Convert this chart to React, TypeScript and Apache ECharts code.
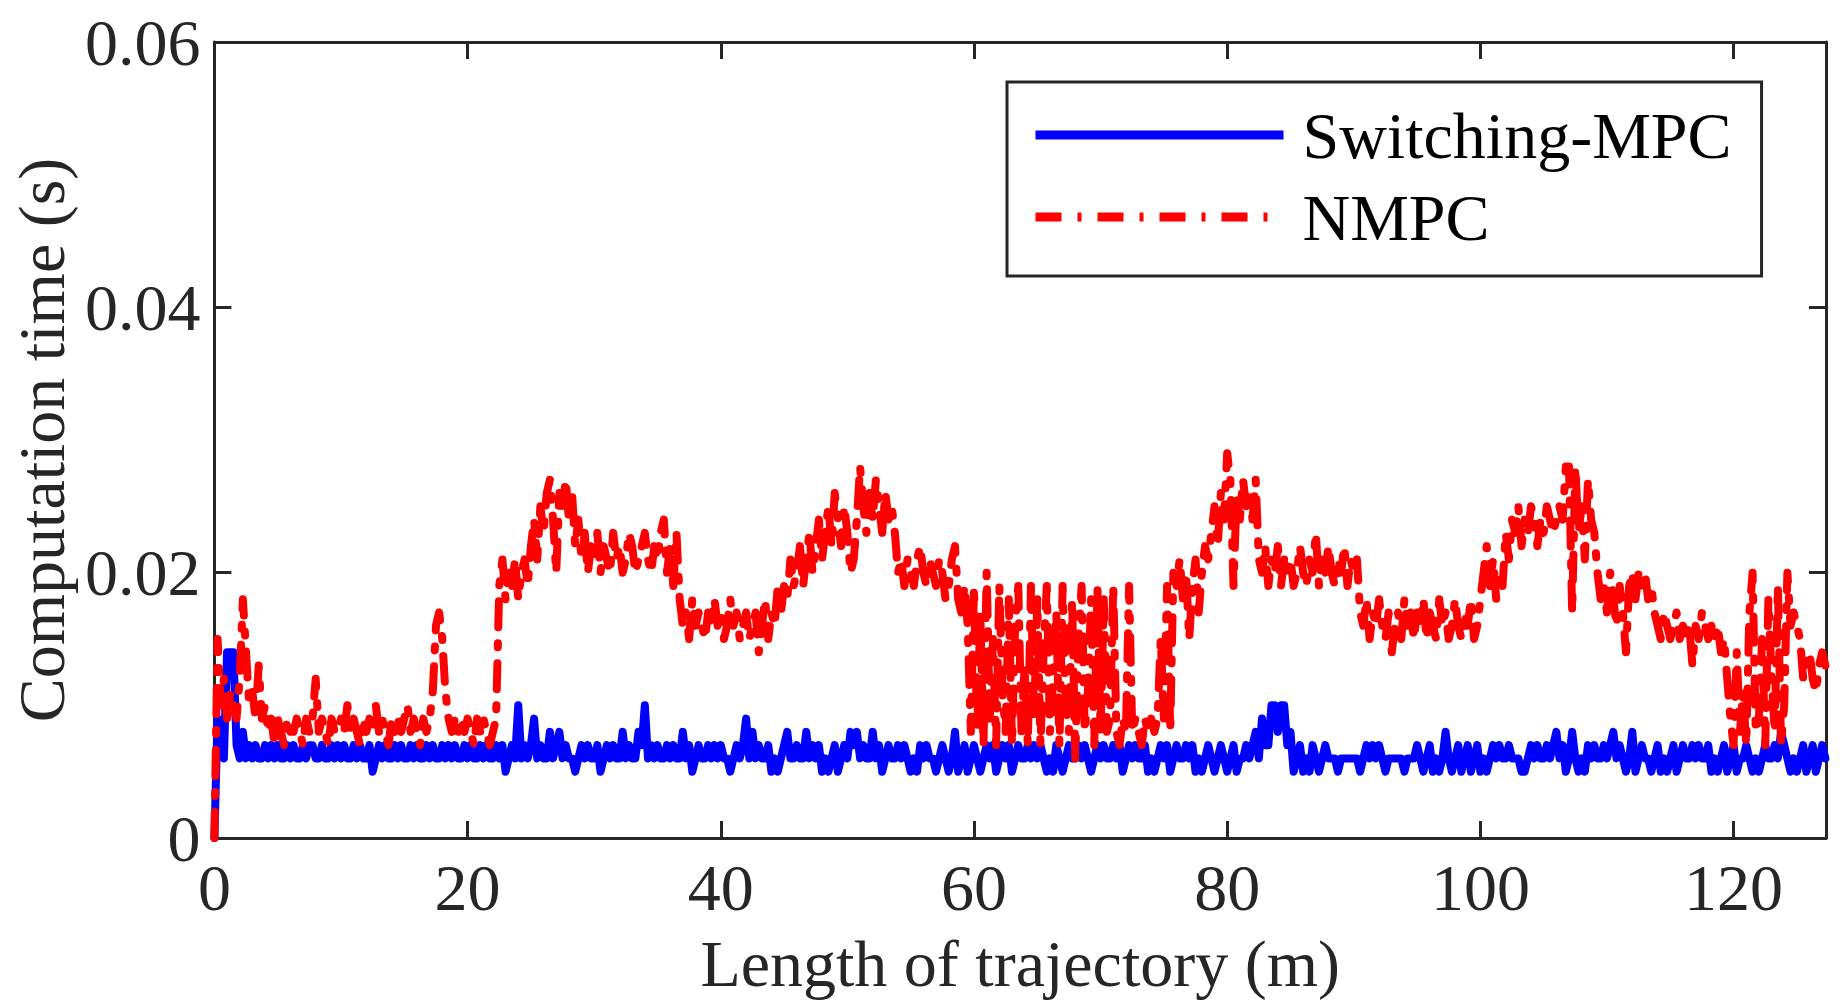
import { useEffect, useRef } from "react";
import * as echarts from "echarts";

// one sample every 0.25 m of trajectory
const DIST_STEP = 0.25;

// Switching-MPC computation time, in ms
const switchingMs = [
  0, 9, 7, 6, 14, 14, 14, 7, 6, 8, 6, 7, 6, 7, 6, 6, 7, 6, 7, 6, // 0 m
  7, 6, 6, 7, 6, 7, 6, 6, 7, 6, 7, 7, 6, 6, 7, 6, 6, 7, 6, 7, // 5 m
  6, 7, 6, 6, 7, 6, 7, 6, 6, 7, 5, 6, 7, 6, 7, 6, 6, 7, 6, 7, // 10 m
  6, 6, 7, 6, 7, 6, 6, 7, 6, 7, 6, 6, 7, 6, 7, 6, 7, 6, 6, 7, // 15 m
  6, 7, 6, 6, 7, 6, 7, 6, 6, 7, 6, 7, 5, 6, 7, 6, 10, 6, 7, 6, // 20 m
  7, 9, 6, 7, 6, 6, 8, 6, 7, 8, 6, 7, 6, 6, 5, 6, 7, 6, 7, 6, // 25 m
  6, 7, 5, 6, 7, 6, 7, 6, 6, 8, 6, 7, 6, 6, 8, 7, 10, 6, 7, 6, // 30 m
  7, 6, 6, 7, 6, 7, 6, 6, 8, 6, 7, 5, 6, 7, 6, 6, 7, 6, 7, 6, // 35 m
  7, 6, 6, 5, 6, 7, 6, 7, 9, 6, 8, 6, 7, 6, 6, 7, 5, 6, 5, 6, // 40 m
  7, 8, 6, 6, 7, 6, 6, 8, 6, 7, 6, 7, 5, 6, 5, 6, 7, 5, 6, 7, // 45 m
  6, 8, 7, 8, 6, 7, 6, 6, 8, 6, 7, 5, 6, 7, 6, 6, 7, 6, 7, 6, // 50 m
  5, 6, 5, 7, 6, 7, 6, 6, 5, 6, 7, 6, 5, 6, 8, 5, 6, 7, 5, 6, // 55 m
  7, 6, 5, 6, 7, 6, 7, 5, 6, 7, 6, 7, 5, 6, 7, 6, 6, 7, 6, 7, // 60 m
  6, 7, 6, 5, 6, 5, 7, 6, 5, 6, 7, 6, 6, 7, 6, 7, 6, 5, 6, 7, // 65 m
  6, 7, 6, 6, 7, 6, 7, 5, 6, 7, 6, 7, 6, 6, 7, 5, 6, 5, 6, 7, // 70 m
  6, 7, 5, 6, 7, 6, 6, 7, 6, 7, 5, 6, 5, 6, 7, 6, 5, 6, 7, 6, // 75 m
  5, 6, 7, 5, 6, 6, 7, 6, 7, 8, 6, 9, 7, 7, 10, 10, 8, 10, 10, 7, // 80 m
  8, 5, 6, 7, 5, 6, 5, 7, 6, 5, 6, 7, 6, 6, 6, 5, 6, 6, 6, 6, // 85 m
  6, 6, 5, 6, 7, 6, 7, 6, 7, 6, 5, 6, 6, 6, 6, 6, 5, 6, 6, 6, // 90 m
  7, 6, 5, 6, 7, 5, 6, 5, 6, 8, 6, 5, 6, 7, 5, 6, 7, 5, 6, 7, // 95 m
  5, 6, 5, 6, 7, 6, 7, 6, 6, 7, 6, 6, 6, 5, 5, 6, 7, 6, 7, 6, // 100 m
  6, 7, 6, 7, 8, 6, 7, 5, 6, 8, 6, 5, 6, 5, 7, 6, 7, 6, 6, 7, // 105 m
  6, 7, 8, 6, 7, 6, 5, 6, 8, 5, 6, 7, 6, 6, 5, 6, 7, 5, 6, 5, // 110 m
  6, 7, 5, 6, 7, 6, 6, 7, 6, 7, 6, 6, 7, 5, 6, 5, 6, 7, 5, 6, // 115 m
  7, 5, 6, 6, 7, 6, 5, 6, 5, 6, 7, 6, 6, 7, 6, 8, 7, 6, 5, 6, // 120 m
  5, 6, 7, 5, 6, 7, 5, 6, 7, 6, // 125 m
];

// NMPC computation time, in ms
const nmpcMs = [
  0, 15, 10, 12, 9, 11, 10, 9, 12, 18, 14, 10, 11, 9, 13, 9, 10, 8, 9, 7, // 0 m
  9, 8, 7, 9, 8, 8, 9, 8, 7, 9, 8, 9, 12, 8, 9, 8, 7, 9, 8, 8, // 5 m
  9, 8, 10, 8, 9, 8, 7, 9, 8, 9, 8, 10, 8, 9, 8, 7, 9, 8, 9, 8, // 10 m
  9, 10, 8, 9, 8, 7, 9, 8, 9, 11, 16, 17, 15, 11, 9, 8, 9, 8, 9, 8, // 15 m
  9, 8, 7, 9, 8, 9, 8, 7, 8, 9, 19, 21, 18, 20, 19, 21, 18, 20, 21, 19, // 20 m
  22, 24, 21, 25, 23, 26, 27, 24, 20, 26, 25, 27, 24, 26, 22, 24, 21, 23, 20, 22, // 25 m
  21, 23, 20, 22, 21, 20, 23, 21, 22, 20, 21, 23, 22, 20, 21, 22, 23, 21, 20, 22, // 30 m
  21, 23, 24, 20, 22, 19, 23, 18, 16, 17, 15, 18, 16, 17, 16, 15, 17, 16, 18, 16, // 35 m
  17, 15, 16, 18, 16, 17, 15, 16, 17, 15, 16, 17, 14, 16, 18, 15, 17, 16, 19, 17, // 40 m
  19, 18, 21, 19, 20, 22, 19, 21, 23, 20, 22, 24, 21, 23, 25, 22, 26, 24, 22, 25, // 45 m
  23, 20, 21, 24, 28, 25, 23, 26, 24, 27, 25, 23, 26, 24, 25, 23, 20, 21, 19, 21, // 50 m
  20, 19, 21, 22, 20, 19, 21, 20, 19, 21, 20, 18, 19, 21, 22, 18, 17, 19, 16, 8, // 55 m
  19, 8, 17, 7, 20, 9, 15, 7, 19, 11, 8, 18, 7, 16, 19, 8, 13, 7, 19, 9, // 60 m
  18, 7, 14, 19, 8, 12, 17, 7, 19, 10, 8, 18, 6, 15, 19, 8, 11, 18, 7, 19, // 65 m
  8, 18, 8, 9, 19, 8, 7, 9, 8, 19, 8, 9, 8, 7, 9, 8, 9, 8, 9, 15, // 70 m
  9, 19, 8, 20, 19, 21, 18, 20, 15, 19, 21, 17, 20, 22, 21, 23, 25, 22, 26, 24, // 75 m
  29, 27, 19, 26, 24, 27, 25, 26, 24, 27, 21, 20, 22, 19, 21, 20, 22, 19, 21, 20, // 80 m
  21, 19, 20, 22, 20, 19, 21, 20, 23, 19, 21, 20, 22, 20, 19, 21, 20, 22, 19, 21, // 85 m
  20, 21, 17, 16, 18, 15, 17, 16, 18, 16, 15, 17, 14, 16, 17, 15, 18, 16, 17, 15, // 90 m
  17, 16, 18, 15, 17, 16, 15, 18, 16, 17, 15, 16, 18, 16, 15, 17, 16, 18, 15, 16, // 95 m
  18, 20, 22, 19, 21, 18, 20, 19, 23, 21, 24, 23, 25, 22, 24, 23, 25, 24, 22, 24, // 100 m
  23, 25, 24, 23, 24, 25, 24, 28, 28, 17, 28, 23, 25, 21, 27, 24, 23, 20, 18, 19, // 105 m
  17, 20, 18, 16, 19, 17, 14, 19, 20, 18, 20, 19, 20, 18, 19, 17, 16, 15, 17, 16, // 110 m
  15, 16, 17, 15, 16, 15, 16, 13, 16, 15, 17, 16, 15, 16, 15, 16, 14, 15, 12, 9, // 115 m
  7, 14, 8, 11, 7, 17, 20, 8, 9, 15, 7, 18, 12, 8, 19, 7, 10, 20, 16, 17, // 120 m
  16, 15, 12, 13, 14, 12, 11, 13, 14, 13, // 125 m
];

const xTicks = [0, 20, 40, 60, 80, 100, 120];
const yTickLabels = ["0", "0.02", "0.04", "0.06"];

const FONT = "'Liberation Serif', 'Times New Roman', serif";
const INK = "#262626";

const App = () => {
  const chartRef = useRef<HTMLDivElement>(null);

  useEffect(() => {
    if (!chartRef.current) return;
    const chart = echarts.init(chartRef.current, null, { renderer: "svg" });

    const toPoints = (arr: number[]) =>
      arr.map((v, i) => [i * DIST_STEP, v / 1000]);

    // box style axes (MATLAB look): line on all four sides, ticks pointing in
    const axisLine = { show: true, onZero: false, lineStyle: { color: INK, width: 3 } };
    const axisTick = {
      show: true,
      inside: true,
      length: 17,
      lineStyle: { color: INK, width: 3 },
    };
    const labelFont = { fontFamily: FONT, fontSize: 66, color: INK };

    chart.setOption({
      animation: false,
      grid: { left: 212, right: 14, top: 42, bottom: 165 },
      legend: {
        orient: "vertical",
        left: 1007,
        top: 82,
        padding: [20, 30, 26, 24],
        itemWidth: 248,
        itemHeight: 14,
        itemGap: 16,
        borderColor: INK,
        borderWidth: 3,
        backgroundColor: "#fff",
        itemStyle: { opacity: 0 },
        lineStyle: { width: 9, cap: "butt" },
        textStyle: {
          fontFamily: FONT,
          fontSize: 66,
          color: "#000",
          lineHeight: 64,
          padding: [0, 0, 0, 14],
        },
        data: ["Switching-MPC", "NMPC"],
      },
      xAxis: [
        {
          type: "value",
          min: 0,
          max: 127.3,
          interval: 20,
          name: "Length of trajectory (m)",
          nameLocation: "middle",
          nameGap: 92,
          nameTextStyle: labelFont,
          axisLine,
          axisTick,
          splitLine: { show: false },
          axisLabel: {
            ...labelFont,
            margin: 16,
            showMaxLabel: false,
            formatter: (v: number) => (xTicks.includes(v) ? String(v) : ""),
          },
        },
        {
          type: "value",
          position: "top",
          min: 0,
          max: 127.3,
          interval: 20,
          axisLine,
          axisTick,
          splitLine: { show: false },
          axisLabel: { show: false },
        },
      ],
      yAxis: [
        {
          type: "value",
          min: 0,
          max: 0.06,
          interval: 0.02,
          name: "Computation time (s)",
          nameLocation: "middle",
          nameGap: 136,
          nameTextStyle: labelFont,
          axisLine,
          axisTick,
          splitLine: { show: false },
          axisLabel: {
            ...labelFont,
            margin: 14,
            formatter: (v: number) => yTickLabels[Math.round(v / 0.02)] ?? "",
          },
        },
        {
          type: "value",
          position: "right",
          min: 0,
          max: 0.06,
          interval: 0.02,
          axisLine,
          axisTick,
          splitLine: { show: false },
          axisLabel: { show: false },
        },
      ],
      series: [
        {
          name: "Switching-MPC",
          type: "line",
          data: toPoints(switchingMs),
          showSymbol: false,
          symbol: "none",
          color: "#0000ff",
          lineStyle: { color: "#0000ff", width: 8, join: "round", cap: "round" },
        },
        {
          name: "NMPC",
          type: "line",
          data: toPoints(nmpcMs),
          showSymbol: false,
          symbol: "none",
          color: "#ff0000",
          lineStyle: {
            color: "#ff0000",
            width: 8,
            type: [26, 16, 4, 16],
            join: "round",
            cap: "round",
          },
        },
      ],
    });

    return () => {
      chart.dispose();
    };
  }, []);

  return (
    <div
      ref={chartRef}
      style={{ position: "absolute", left: 0, top: 0, width: "1840px", height: "1003px" }}
    ></div>
  );
};

export default App;
